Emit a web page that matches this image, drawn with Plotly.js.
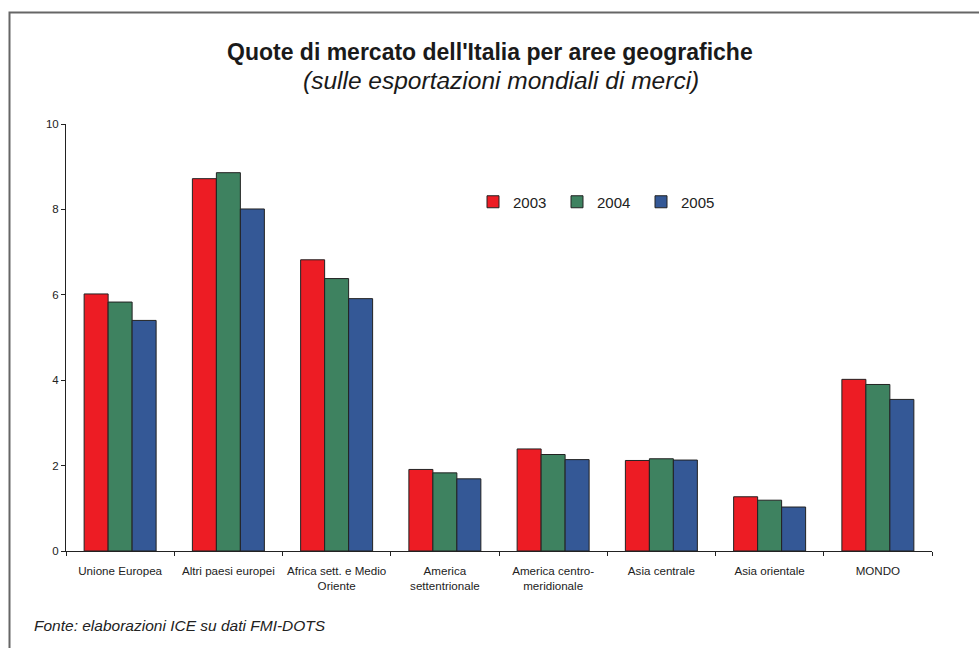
<!DOCTYPE html>
<html>
<head>
<meta charset="utf-8">
<script src="https://cdn.plot.ly/plotly-3.0.1.min.js"></script>
<style>html,body{margin:0;padding:0;background:#fff;}#chart{width:979px;height:648px;}</style>
</head>
<body>
<div id="chart"></div>
<script>
const categories = ["Unione Europea", "Altri paesi europei", "Africa sett. e Medio<br>Oriente", "America<br>settentrionale", "America centro-<br>meridionale", "Asia centrale", "Asia orientale", "MONDO"];
const years = ["2003", "2004", "2005"];
const v2003 = [6.02, 8.72, 6.82, 1.91, 2.39, 2.12, 1.27, 4.02];
const v2004 = [5.83, 8.86, 6.38, 1.83, 2.26, 2.16, 1.19, 3.90];
const v2005 = [5.40, 8.01, 5.91, 1.69, 2.14, 2.13, 1.03, 3.55];
const colors = ["#ED1C24", "#3E8260", "#345896"];
const series = [v2003, v2004, v2005];

const traces = series.map((vals, i) => ({
  type: "bar",
  name: years[i],
  x: categories,
  y: vals,
  marker: {color: colors[i], line: {color: "#222222", width: 1}},
  hoverinfo: "skip"
}));

const L = 66, R = 47, T = 124, B = 97, W = 979, H = 648;
const pw = W - L - R, ph = H - T - B;
const px = p => (p - L) / pw;
const py = p => (H - B - p) / ph;

const layout = {
  width: W, height: H,
  margin: {l: L, r: R, t: T, b: B},
  paper_bgcolor: "#ffffff",
  plot_bgcolor: "#ffffff",
  font: {family: "Liberation Sans, Arial, sans-serif", color: "#222222"},
  barmode: "group",
  bargap: 0.335,
  bargroupgap: 0,
  showlegend: true,
  legend: {
    orientation: "h",
    x: px(473), y: py(202), xanchor: "left", yanchor: "middle",
    font: {size: 15, color: "#222222"},
    entrywidth: 39, entrywidthmode: "pixels",
    itemwidth: 30,
    bgcolor: "rgba(0,0,0,0)"
  },
  xaxis: {
    type: "category",
    showgrid: false,
    showline: true, linecolor: "#222222", linewidth: 1,
    ticks: "outside", ticklen: 4, tickcolor: "#222222",
    tickson: "boundaries",
    tickangle: 0,
    ticklabelstandoff: 9,
    tickfont: {size: 11.6, color: "#222222"},
    fixedrange: true
  },
  yaxis: {
    range: [0, 10],
    dtick: 2,
    showgrid: false,
    zeroline: false,
    showline: true, linecolor: "#222222", linewidth: 1,
    ticks: "outside", ticklen: 4, tickcolor: "#222222",
    tickfont: {size: 11.5, color: "#222222"},
    fixedrange: true
  },
  annotations: [
    {text: "<b>Quote di mercato dell'Italia per aree geografiche</b>", xref: "paper", yref: "paper",
     x: px(490), y: py(52), xanchor: "center", yanchor: "middle", showarrow: false,
     font: {size: 23, color: "#1a1a1a"}},
    {text: "<i>(sulle esportazioni mondiali di merci)</i>", xref: "paper", yref: "paper",
     x: px(501), y: py(80), xanchor: "center", yanchor: "middle", showarrow: false,
     font: {size: 24.5, color: "#1a1a1a"}},
    {text: "<i>Fonte: elaborazioni ICE su dati FMI-DOTS</i>", xref: "paper", yref: "paper",
     x: px(32), y: py(625), xanchor: "left", yanchor: "middle", showarrow: false,
     font: {size: 15.5, color: "#222222"}}
  ],
  shapes: [
    {type: "rect", xref: "paper", yref: "paper",
     x0: px(9.5), x1: px(1000), y0: py(12.5), y1: py(680),
     line: {color: "#666666", width: 2}, fillcolor: "rgba(0,0,0,0)", layer: "below"}
  ]
};

Plotly.newPlot("chart", traces, layout, {displayModeBar: false, staticPlot: true});
</script>
</body>
</html>
